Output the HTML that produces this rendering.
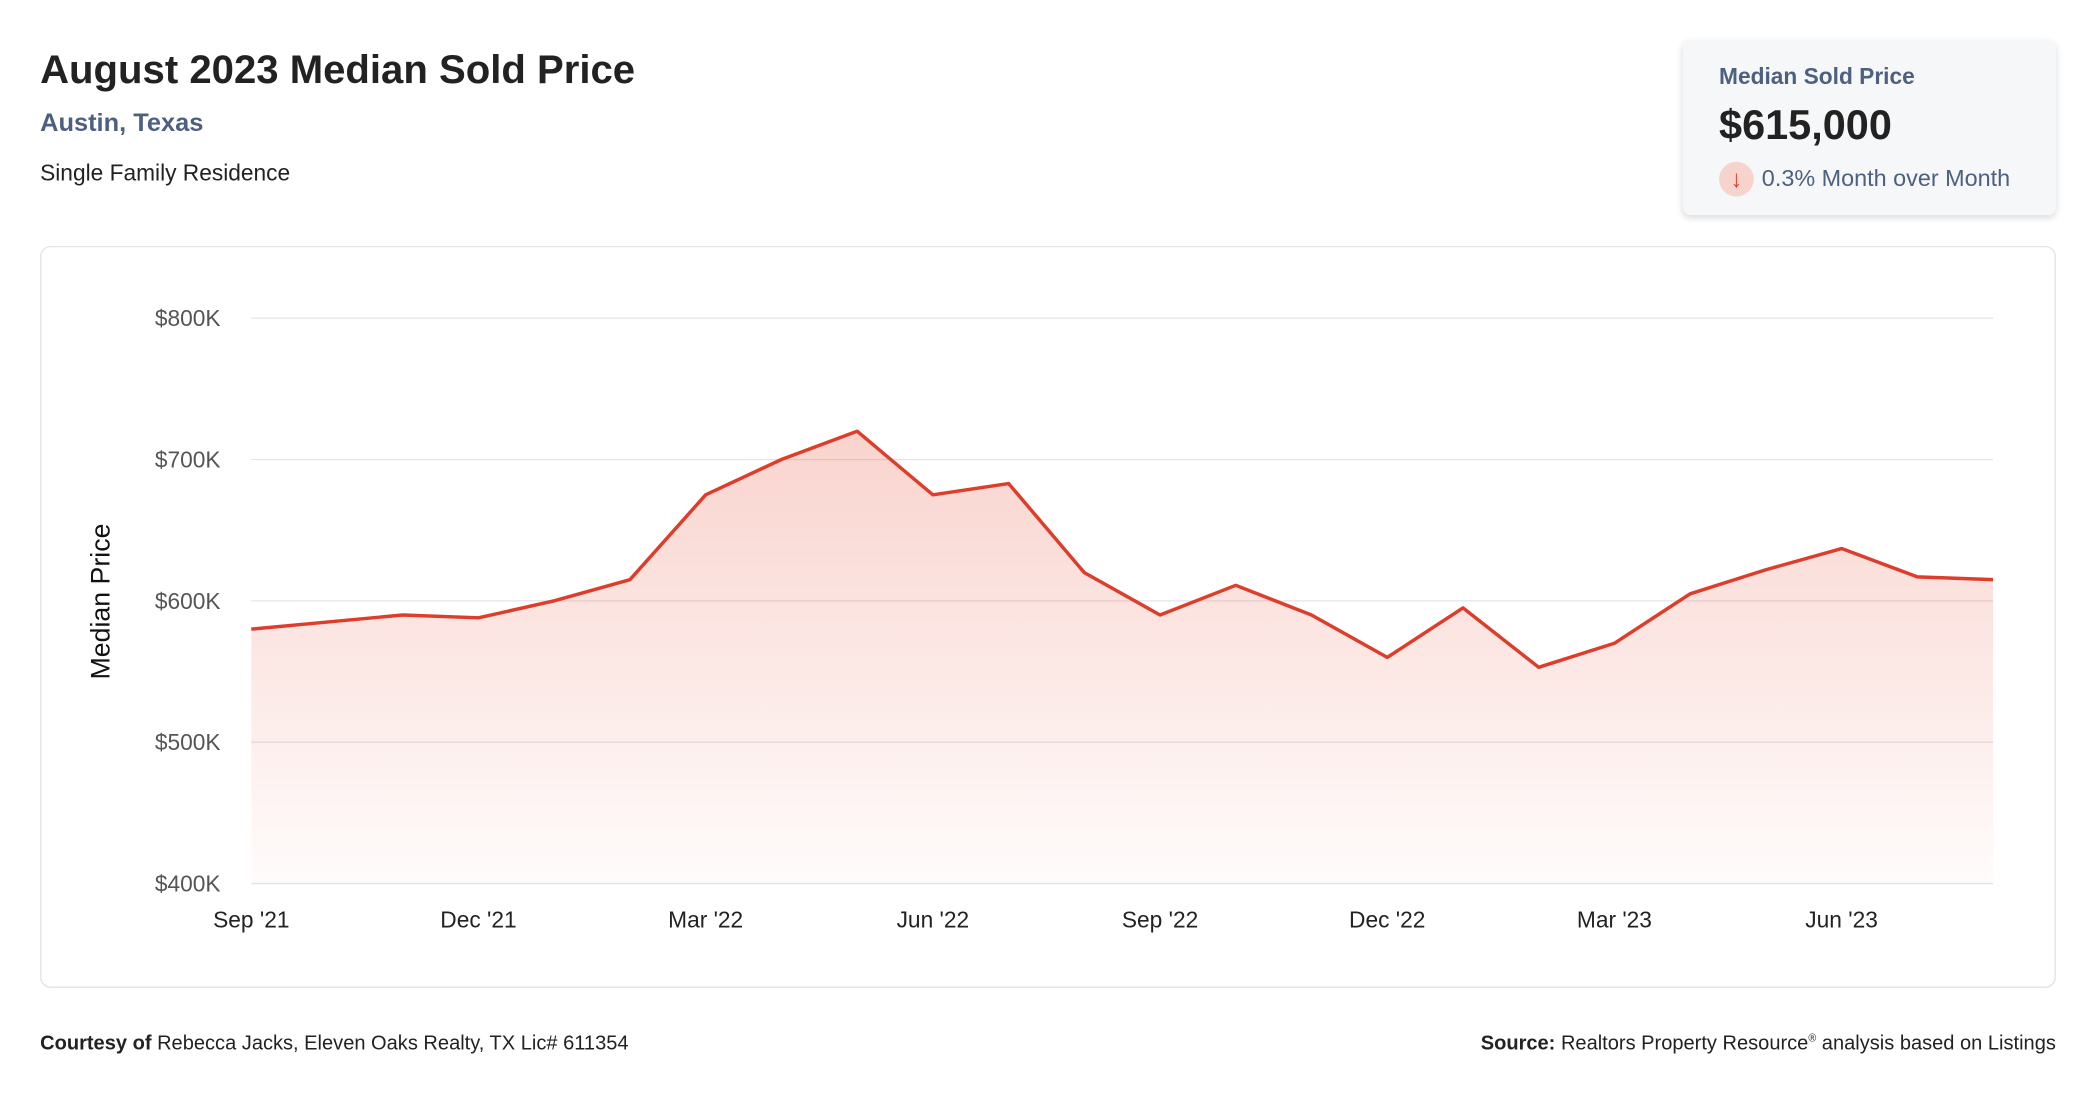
<!DOCTYPE html>
<html><head><meta charset="utf-8"><style>
html,body{margin:0;padding:0;background:#fff;overflow:hidden}
body{width:2096px;height:1100px}
#wrap{position:absolute;left:0;top:0;width:1568px;height:823px;transform:scale(1.33673);transform-origin:0 0;font-family:"Liberation Sans",sans-serif;color:#222}
.abs{position:absolute}
</style></head><body>
<div id="wrap">
<div class="abs" style="left:30px;top:36px;font-size:30px;font-weight:bold;color:#222">August 2023 Median Sold Price</div>
<div class="abs" style="left:30px;top:82px;font-size:19px;font-weight:bold;color:#4d6080">Austin, Texas</div>
<div class="abs" style="left:30px;top:120px;font-size:17px;color:#222">Single Family Residence</div>
<div class="abs" style="left:1259px;top:30px;width:279px;height:131px;background:#f6f7f9;border-radius:6px;box-shadow:0 2px 5px rgba(0,0,0,0.15)">
  <div class="abs" style="left:27px;top:18px;font-size:17px;font-weight:bold;color:#4d6080">Median Sold Price</div>
  <div class="abs" style="left:27px;top:46px;font-size:31px;font-weight:bold;color:#222">$615,000</div>
  <div class="abs" style="left:27px;top:91px;width:26px;height:26px;border-radius:13px;background:#f6d3cd;color:#d63f2a;font-size:18px;line-height:26px;text-align:center">↓</div>
  <div class="abs" style="left:59px;top:93px;font-size:17.5px;color:#4d6080">0.3% Month over Month</div>
</div>
<div class="abs" style="left:30px;top:184px;width:1506px;height:553px;border:1px solid #dfe3ea;border-radius:8px"></div>
<svg class="abs" style="left:0;top:0" width="1568" height="823">
<defs><linearGradient id="g" x1="0" y1="0" x2="0" y2="1"><stop offset="0" stop-color="#e8513a" stop-opacity="0.25"/><stop offset="1" stop-color="#e8513a" stop-opacity="0.02"/></linearGradient></defs>
<g id="grid"></g><g id="area"></g><g id="xt"></g>
<text transform="translate(82,450) rotate(-90)" text-anchor="middle" font-size="20" font-family="Liberation Sans,sans-serif" fill="#111">Median Price</text>
</svg>
<div class="abs" style="left:30px;top:772px;font-size:15px;color:#222"><b>Courtesy of</b> Rebecca Jacks, Eleven Oaks Realty, TX Lic# 611354</div>
<div class="abs" style="right:30px;top:772px;font-size:15px;color:#222"><b>Source:</b> Realtors Property Resource<sup style="font-size:8px">®</sup> analysis based on Listings</div>
</div>
<script>
const values=[580,585,590,588,600,615,675,700,720,675,683,620,590,611,590,560,595,553,570,605,622,637,617,615];
const yTicks=[400,500,600,700,800];
const yTickLabels=["$400K","$500K","$600K","$700K","$800K"];
const xTickIdx=[0,3,6,9,12,15,18,21];
const xTickLabels=["Sep '21","Dec '21","Mar '22","Jun '22","Sep '22","Dec '22","Mar '23","Jun '23"];
const X0=188,X1=1491,Y0=661,Y1=238;
function x(i){return X0+(X1-X0)*i/(values.length-1);}
function y(v){return Y0-(v-400)/400*(Y0-Y1);}
const NS="http://www.w3.org/2000/svg";
function mk(t,a,p){const e=document.createElementNS(NS,t);for(const k in a)e.setAttribute(k,a[k]);p.appendChild(e);return e;}
const grid=document.getElementById('grid');
yTicks.forEach((v,i)=>{
 const l=mk('line',{x1:X0,x2:X1,y1:y(v),y2:y(v),stroke:'#e2e4e8','stroke-width':1},grid);
 
 
 const t=mk('text',{x:165,y:y(v)+6,'text-anchor':'end','font-size':17,'font-family':'Liberation Sans,sans-serif',fill:'#555'},grid);
 t.textContent=yTickLabels[i];
 
 
});
const area=document.getElementById('area');
let pts=values.map((v,i)=>x(i)+','+y(v)).join(' ');
const poly=mk('polygon',{points:X0+','+Y0+' '+pts+' '+X1+','+Y0,fill:'url(#g)'},area);


const line=mk('polyline',{points:pts,fill:'none',stroke:'#dd3e2b','stroke-width':2.6,'stroke-linejoin':'round'},area);


const xt=document.getElementById('xt');
xTickIdx.forEach((idx,i)=>{
 const t=mk('text',{x:x(idx),y:694,'text-anchor':'middle','font-size':17,'font-family':'Liberation Sans,sans-serif',fill:'#222'},xt);
 t.textContent=xTickLabels[i];
 
 
});
</script>
</body></html>
